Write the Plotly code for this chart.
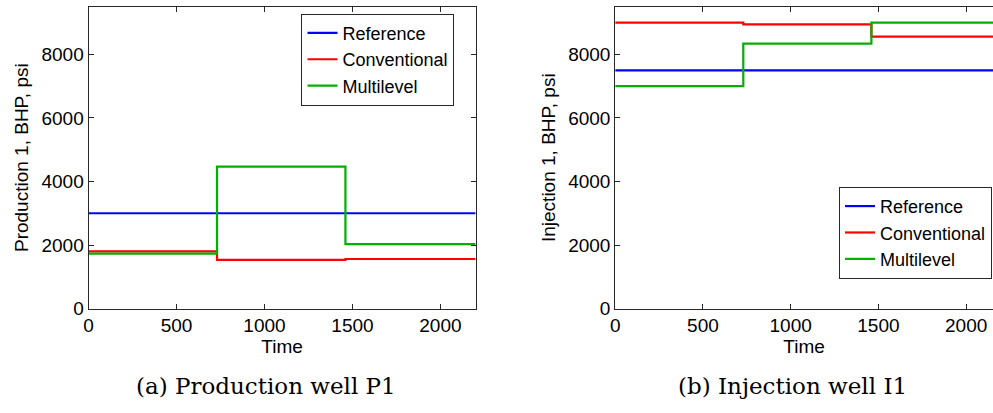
import plotly.graph_objects as go

# ---- data ----
time_breaks = [0, 730, 1460, 2200]
series_names = ["Reference", "Conventional", "Multilevel"]
series_colors = ["rgb(0,0,255)", "rgb(255,0,0)", "rgb(0,176,0)"]

p1_reference = [3000, 3000, 3000]
p1_conventional = [1800, 1530, 1560]
p1_multilevel = [1730, 4470, 2030]

i1_reference = [7500, 7500, 7500]
i1_conventional = [9000, 8950, 8560]
i1_multilevel = [7000, 8340, 9000]

y_ticks = [0, 2000, 4000, 6000, 8000]
x_ticks = [0, 500, 1000, 1500, 2000]

W, H = 993, 413
fig = go.Figure()

def step_y(vals):
    return list(vals) + [vals[-1]]

left_sets = [p1_reference, p1_conventional, p1_multilevel]
right_sets = [i1_reference, i1_conventional, i1_multilevel]

for name, col, vals in zip(series_names, series_colors, left_sets):
    fig.add_trace(go.Scatter(x=time_breaks, y=step_y(vals), mode="lines",
                             line=dict(color=col, width=2.2, shape="hv"),
                             name=name, xaxis="x", yaxis="y", legend="legend"))
for name, col, vals in zip(series_names, series_colors, right_sets):
    fig.add_trace(go.Scatter(x=time_breaks, y=step_y(vals), mode="lines",
                             line=dict(color=col, width=2.2, shape="hv"),
                             name=name, xaxis="x2", yaxis="y2", legend="legend2"))

tick_font = dict(family="Liberation Sans, Arial, sans-serif", size=19, color="black")
leg_font = dict(family="Liberation Sans, Arial, sans-serif", size=18, color="black")
axcol = "rgb(40,40,40)"

def px_x(p):
    return p / W

def px_y(p):
    return 1 - p / H

common_x = dict(tickmode="array", tickvals=x_ticks, ticks="inside", ticklen=5,
                tickcolor=axcol, showline=True, linecolor=axcol, linewidth=1,
                showgrid=False, zeroline=False, tickfont=tick_font,
                title=dict(text="Time", font=tick_font, standoff=3))
common_y = dict(tickmode="array", tickvals=y_ticks, ticks="inside", ticklen=5,
                tickcolor=axcol, showline=True, linecolor=axcol, linewidth=1,
                showgrid=False, zeroline=False, tickfont=tick_font, range=[0, 9500])

fig.update_layout(
    width=W, height=H,
    margin=dict(l=0, r=0, t=0, b=0),
    paper_bgcolor="white", plot_bgcolor="white",
    xaxis=dict(common_x, domain=[px_x(84), px_x(473)], range=[0, 2200],
               mirror="ticks", anchor="y"),
    yaxis=dict(common_y, domain=[px_y(317), px_y(7)], mirror="ticks", anchor="x",
               title=dict(text="Production 1, BHP, psi", font=tick_font, standoff=7)),
    xaxis2=dict(common_x, domain=[px_x(613.3), 1.0], range=[0, 2153],
                mirror="ticks", anchor="y2"),
    yaxis2=dict(common_y, domain=[px_y(317), px_y(7)], mirror=False, anchor="x2",
                title=dict(text="Injection 1, BHP, psi", font=tick_font, standoff=7)),
    legend=dict(x=px_x(298), y=px_y(14), xanchor="left", yanchor="top",
                bgcolor="white", bordercolor=axcol, borderwidth=1, font=leg_font),
    legend2=dict(x=px_x(992), y=px_y(192), xanchor="right", yanchor="top",
                 bgcolor="white", bordercolor=axcol, borderwidth=1, font=leg_font),
    showlegend=True,
)

cap_font = dict(family="DejaVu Serif, serif", size=23, color="black")
fig.add_annotation(text="(a) Production well P1", x=px_x(262), y=px_y(397),
                   xref="paper", yref="paper", showarrow=False, font=cap_font,
                   xanchor="center", yanchor="middle")
fig.add_annotation(text="(b) Injection well I1", x=px_x(791), y=px_y(397),
                   xref="paper", yref="paper", showarrow=False, font=cap_font,
                   xanchor="center", yanchor="middle")

fig.write_html("out.html")
